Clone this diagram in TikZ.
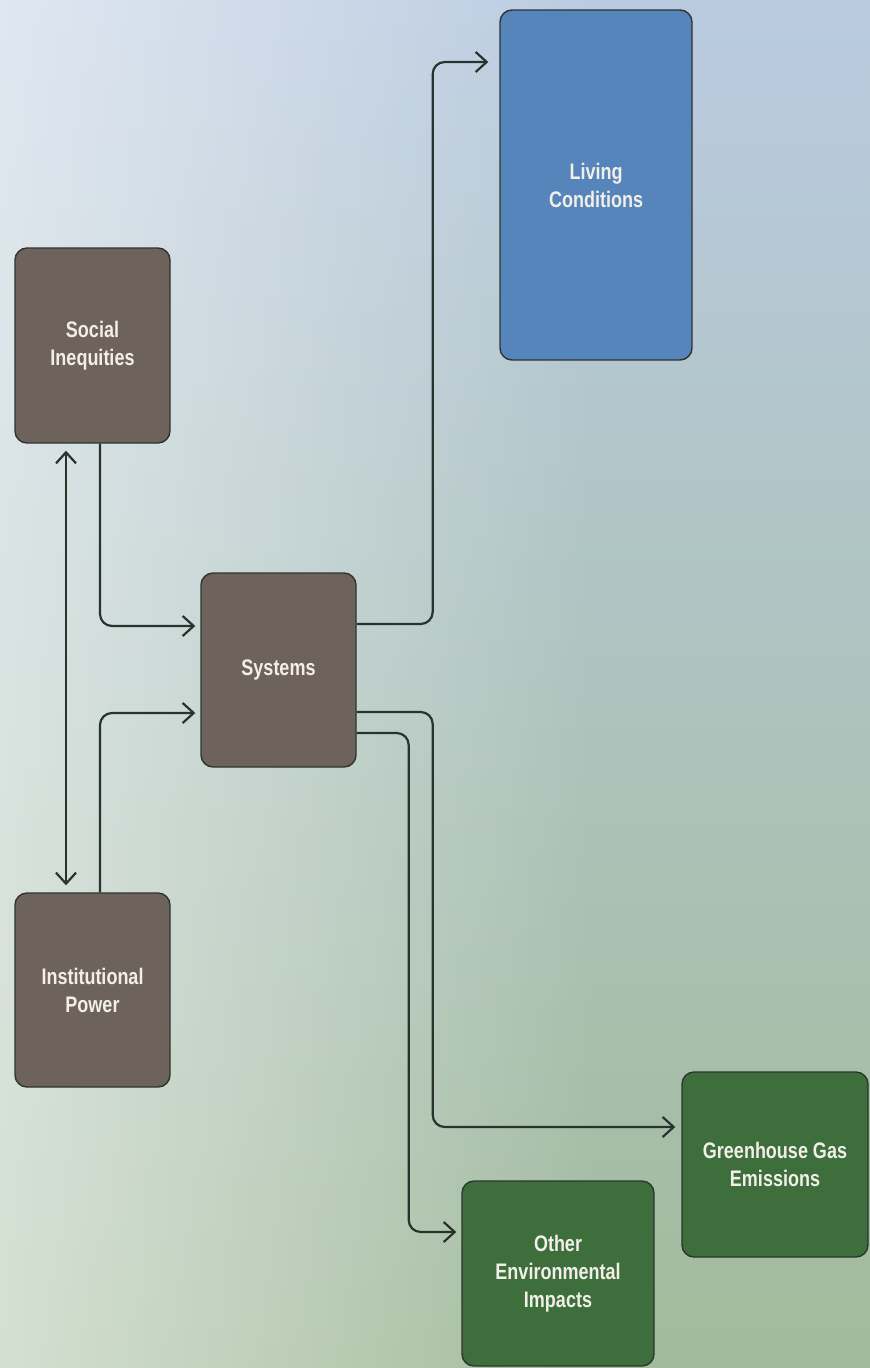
\documentclass[tikz,border=0pt]{standalone}
\usepackage{fontspec}
\setmainfont{Liberation Sans}[FakeStretch=0.8]
\usetikzlibrary{arrows.meta,fadings}
\definecolor{bgtop}{HTML}{BACBE1}
\definecolor{bgmid}{HTML}{C6D6C4}
\definecolor{bgbot}{HTML}{A2BB9B}
\definecolor{brownbox}{HTML}{6E635C}
\definecolor{bluebox}{HTML}{5585BA}
\definecolor{greenbox}{HTML}{3D6E3C}
\definecolor{edgecol}{HTML}{2E3530}
\definecolor{linecol}{HTML}{27332C}
\definecolor{txtcol}{HTML}{F2EEE8}
\tikzset{
  box/.style={draw=edgecol, line width=1.4pt, rounded corners=12pt, inner sep=0pt,
    text=txtcol, font=\bfseries\fontsize{22.5}{28}\selectfont, align=center},
  brownnode/.style={box, fill=brownbox},
  bluenode/.style={box, fill=bluebox},
  greennode/.style={box, fill=greenbox},
  conn/.style={draw=linecol, line width=2.2pt, rounded corners=12pt,
    -{Straight Barb[length=11pt,width=20pt]}},
  conn2/.style={draw=linecol, line width=2.2pt,
    {Straight Barb[length=11pt,width=20pt]}-{Straight Barb[length=11pt,width=20pt]}}
}
\begin{document}
\begin{tikzpicture}[x=1pt,y=-1pt]
\useasboundingbox (0,0) rectangle (870,1368);
\fill[bgmid] (-2,-2) rectangle (872,1370);
\shade[top color=bgtop, middle color=bgmid, bottom color=bgbot] (-2,-2) rectangle (872,1370);
\fill[white, opacity=0.55, path fading=east] (-2,-2) rectangle (600,1370);

\node[brownnode, minimum width=155pt, minimum height=195pt] (si) at (92.5,345.5) {Social\\Inequities};
\node[brownnode, minimum width=155pt, minimum height=194pt] (ip) at (92.5,990) {Institutional\\Power};
\node[brownnode, minimum width=155pt, minimum height=194pt] (sys) at (278.5,670) {Systems};
\node[bluenode, minimum width=192pt, minimum height=350pt] (lc) at (596,185) {Living\\Conditions};
\node[greennode, minimum width=186pt, minimum height=185pt] (ghg) at (775,1164.5) {Greenhouse Gas\\Emissions};
\node[greennode, minimum width=192pt, minimum height=185pt] (oth) at (558,1273.5) {Other\\Environmental\\Impacts};

\draw[conn, shorten >=11pt] ([yshift=46pt]sys.east) -- ++(76,0) |- ([yshift=123pt]lc.west);
\draw[conn, shorten >=5pt] ([xshift=7.5pt]si.south) |- ([yshift=44pt]sys.west);
\draw[conn, shorten >=5pt] ([xshift=7.5pt]ip.north) |- ([yshift=-43pt]sys.west);
\draw[conn2, shorten >=7pt, shorten <=7pt] ([xshift=-26.5pt]si.south) -- ([xshift=-26.5pt]ip.north);
\draw[conn, shorten >=6pt] ([yshift=-42pt]sys.east) -- ++(76,0) |- ([yshift=37.5pt]ghg.west);
\draw[conn, shorten >=5pt] ([yshift=-63pt]sys.east) -- ++(52,0) |- ([yshift=41.5pt]oth.west);
\end{tikzpicture}
\end{document}
